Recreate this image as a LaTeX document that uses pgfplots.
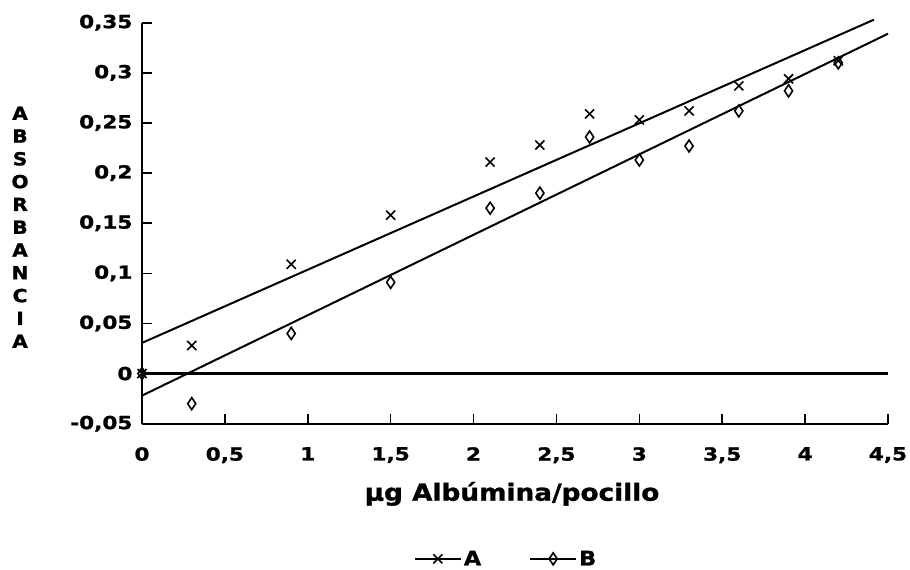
\documentclass[border=0pt]{standalone}
\usepackage{fontspec}
\setmainfont{DejaVu Sans}
\newfontfamily\tickfont{DejaVu Sans}[FakeStretch=1.2, FakeBold=1.2]
\newfontfamily\labfont{DejaVu Sans}[FakeStretch=1.12, FakeBold=1.2]
\usepackage{pgfplots}
\pgfplotsset{compat=1.18}

\begin{document}
\begin{tikzpicture}
  \begin{axis}[
      scale only axis,
      width=746pt,
      height=401pt,
      xmin=0, xmax=4.5,
      ymin=-0.05, ymax=0.35,
      axis x line=bottom,
      axis y line=left,
      axis line style={-, line width=2.2pt},
      tick align=inside,
      major tick length=10pt,
      tick style={line width=1.6pt, black},
      xtick={0,0.5,1,1.5,2,2.5,3,3.5,4,4.5},
      xticklabels={0,{0,5},1,{1,5},2,{2,5},3,{3,5},4,{4,5}},
      ytick={-0.05,0,0.05,0.1,0.15,0.2,0.25,0.3,0.35},
      yticklabels={{-0,05},0,{0,05},{0,1},{0,15},{0,2},{0,25},{0,3},{0,35}},
      tick label style={font=\fontsize{18}{20}\tickfont\bfseries},
      xticklabel style={yshift=-20pt},
      yticklabel style={xshift=-6pt},
      xlabel={µg Albúmina/pocillo},
      every axis x label/.style={at={(axis description cs:0.496,-0.175)}, anchor=center,
        font=\fontsize{23.5}{28}\labfont\bfseries},
      ylabel={A\\B\\S\\O\\R\\B\\A\\N\\C\\I\\A},
      every axis y label/.style={at={(axis description cs:-0.1635,0.49)}, anchor=center,
        align=center, font=\fontsize{18}{22.8}\labfont\bfseries},
      clip=false,
      legend columns=2,
      legend style={draw=none, fill=none, at={(axis description cs:0.488,-0.337)}, anchor=center,
        font=\fontsize{20}{22}\labfont\bfseries,
        /tikz/every even column/.append style={column sep=46pt}},
      legend image code/.code={
        \draw[line width=2pt] (0pt,0pt) -- (46pt,0pt);
        \draw[#1] plot coordinates {(23pt,0pt)};
      },
    ]
    % zero line
    \addplot[line width=2.4pt, forget plot] coordinates {(0,0) (4.5,0)};
    % regression lines
    \addplot[line width=2pt, forget plot] coordinates {(0,0.0306) (4.415,0.353)};
    \addplot[line width=2pt, forget plot] coordinates {(0,-0.022) (4.5,0.339)};
    % data
    \addplot[only marks, mark=x, mark size=6.4pt, mark options={line width=1.6pt}] coordinates {
      (0,0) (0.3,0.028) (0.9,0.109) (1.5,0.158) (2.1,0.211) (2.4,0.228)
      (2.7,0.259) (3.0,0.253) (3.3,0.262) (3.6,0.287) (3.9,0.294) (4.2,0.312)
    };
    \addlegendentry{A}
    \addplot[only marks, mark=diamond, mark size=6pt, mark options={xscale=0.9, line width=1.6pt}] coordinates {
      (0,0) (0.3,-0.030) (0.9,0.040) (1.5,0.091) (2.1,0.165) (2.4,0.180)
      (2.7,0.236) (3.0,0.213) (3.3,0.227) (3.6,0.262) (3.9,0.282) (4.2,0.310)
    };
    \addlegendentry{B}
  \end{axis}
  \pgfresetboundingbox
  \path ([shift={(-142pt,-146pt)}]current axis.south west)
    rectangle ([shift={(22pt,22.7pt)}]current axis.north east);
\end{tikzpicture}
\end{document}
